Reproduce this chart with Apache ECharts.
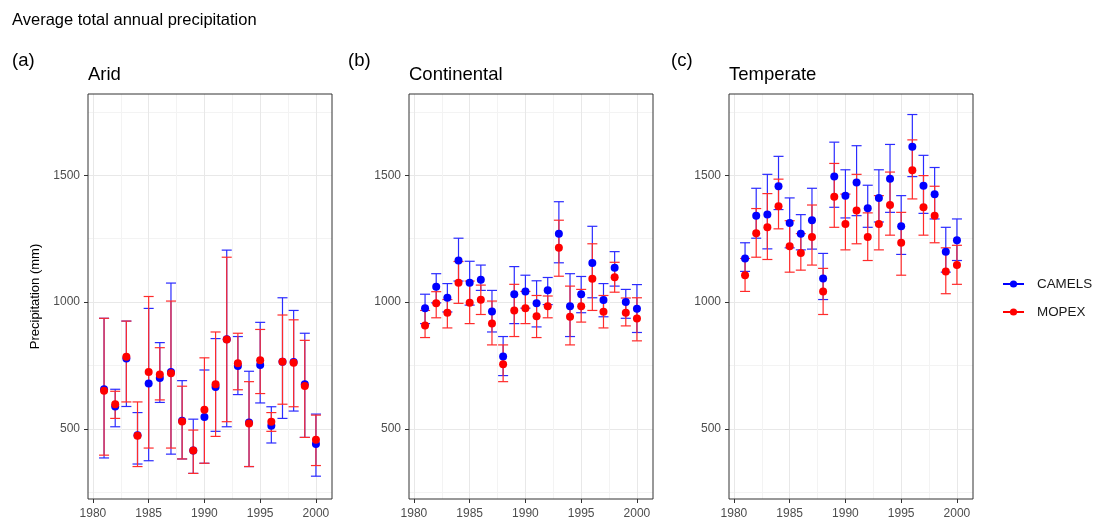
<!DOCTYPE html>
<html>
<head>
<meta charset="utf-8">
<script src="https://cdn.jsdelivr.net/npm/echarts@6/dist/echarts.min.js"></script>
<style>
html,body{margin:0;padding:0;background:#fff;}
#chart{width:1094px;height:520px;}
</style>
</head>
<body>
<div id="chart"></div>
<script>
const years = [1981,1982,1983,1984,1985,1986,1987,1988,1989,1990,1991,1992,1993,1994,1995,1996,1997,1998,1999,2000];
const xTicks = [1980,1985,1990,1995,2000];
const yTicks = [500,1000,1500];
const panelNames = ['Arid','Continental','Temperate'];
const panelTags = ['(a)','(b)','(c)'];

// Arid
const aridCamelsMean = [656,588,777,475,679,700,724,532,414,547,665,853,748,525,752,512,765,764,676,440];
const aridCamelsLow  = [385,508,588,361,374,604,400,381,324,364,490,508,635,351,602,444,541,570,466,313];
const aridCamelsHigh = [936,656,925,564,975,840,1075,690,538,732,856,1205,864,727,920,587,1017,967,877,558];
const aridMopexMean  = [650,597,784,473,724,714,719,529,414,575,676,852,759,521,770,528,765,761,669,457];
const aridMopexLow   = [396,541,606,351,424,614,424,381,324,364,470,528,654,351,639,490,597,587,466,355];
const aridMopexHigh  = [936,648,925,606,1022,820,1004,668,495,780,882,1177,877,686,892,564,949,930,849,554];

// Continental
const contCamelsMean = [976,1060,1017,1164,1076,1088,963,785,1031,1042,995,1047,1270,984,1031,1154,1008,1135,1000,974];
const contCamelsLow  = [915,997,961,1083,988,1046,882,710,915,976,902,990,1155,864,958,1017,942,1063,936,880];
const contCamelsHigh = [1031,1112,1073,1252,1161,1146,1046,864,1140,1106,1084,1097,1396,1112,1101,1299,1073,1199,1050,1069];
const contMopexMean  = [908,995,958,1076,997,1009,915,755,967,976,944,984,1214,942,984,1092,962,1098,958,935];
const contMopexLow   = [860,938,898,995,915,951,831,686,864,915,860,938,1102,831,921,967,898,1039,906,847];
const contMopexHigh  = [967,1041,1010,1160,1083,1067,1004,831,1070,1042,1026,1024,1323,1063,1050,1230,1026,1157,1016,1017];

// Temperate
const tempCamelsMean = [1172,1341,1346,1457,1312,1270,1323,1093,1495,1420,1472,1370,1411,1487,1299,1613,1459,1425,1199,1244];
const tempCamelsLow  = [1121,1252,1210,1365,1214,1206,1209,1010,1374,1332,1341,1295,1316,1354,1188,1495,1350,1328,1118,1164];
const tempCamelsHigh = [1234,1449,1504,1575,1411,1345,1449,1192,1631,1522,1617,1461,1522,1622,1420,1740,1579,1531,1295,1328];
const tempMopexMean  = [1106,1272,1295,1378,1220,1194,1257,1042,1416,1308,1361,1257,1308,1383,1234,1520,1374,1341,1121,1146];
const tempMopexLow   = [1042,1177,1168,1289,1118,1126,1146,951,1295,1206,1230,1164,1206,1264,1106,1407,1264,1234,1033,1070];
const tempMopexHigh  = [1172,1369,1428,1485,1321,1270,1383,1133,1547,1426,1504,1352,1420,1513,1354,1640,1499,1457,1214,1224];

const panels = [
  {camels:[aridCamelsMean,aridCamelsLow,aridCamelsHigh], mopex:[aridMopexMean,aridMopexLow,aridMopexHigh]},
  {camels:[contCamelsMean,contCamelsLow,contCamelsHigh], mopex:[contMopexMean,contMopexLow,contMopexHigh]},
  {camels:[tempCamelsMean,tempCamelsLow,tempCamelsHigh], mopex:[tempMopexMean,tempMopexLow,tempMopexHigh]}
];

const FONT = '"Liberation Sans", Arial, sans-serif';
const BLUE = '#0000ff', RED = '#ff0000';
const BLUE_L = '#2b2bff', RED_L = '#ff2b2b';
const gridLefts = [88, 409, 729];
const Y_MIN = 223, Y_MAX = 1821, X_MIN = 1979.56, X_MAX = 2001.44;

function errBarRenderer(color) {
  return function (params, api) {
    const x = api.value(0), lo = api.value(1), hi = api.value(2);
    const pLo = api.coord([x, lo]);
    const pHi = api.coord([x, hi]);
    const half = api.coord([x + 0.45, lo])[0] - pLo[0];
    const style = {stroke: color, lineWidth: 1.2};
    return {type: 'group', children: [
      {type: 'line', shape: {x1: pLo[0], y1: pLo[1], x2: pHi[0], y2: pHi[1]}, style: style},
      {type: 'line', shape: {x1: pLo[0] - half, y1: pLo[1], x2: pLo[0] + half, y2: pLo[1]}, style: style},
      {type: 'line', shape: {x1: pHi[0] - half, y1: pHi[1], x2: pHi[0] + half, y2: pHi[1]}, style: style}
    ]};
  };
}

const gridLineData = [];
[250,500,750,1000,1250,1500,1750].forEach(function (v) {
  gridLineData.push({yAxis: v, lineStyle: {color: v % 500 === 0 ? '#e8e8e8' : '#f3f3f3', width: 1, type: 'solid'}});
});
[1980,1982.5,1985,1987.5,1990,1992.5,1995,1997.5,2000].forEach(function (v) {
  gridLineData.push({xAxis: v, lineStyle: {color: v % 5 === 0 ? '#e8e8e8' : '#f3f3f3', width: 1, type: 'solid'}});
});

const grids = [], xAxes = [], yAxes = [], series = [], titles = [];
titles.push({text: 'Average total annual precipitation', left: 12, top: 12, padding: 0,
  textStyle: {fontFamily: FONT, fontSize: 16.5, fontWeight: 'normal', color: '#000'}});

panels.forEach(function (p, i) {
  grids.push({left: gridLefts[i], top: 94, width: 244, height: 406, show: true,
    borderColor: '#333', borderWidth: 1, backgroundColor: 'transparent', z: 5, containLabel: false});
  xAxes.push({type: 'value', gridIndex: i, min: X_MIN, max: X_MAX,
    axisLine: {show: false}, splitLine: {show: false},
    axisTick: {show: true, length: 4, lineStyle: {color: '#333', width: 1}, customValues: xTicks},
    axisLabel: {color: '#4d4d4d', fontSize: 12, fontFamily: FONT, margin: 9, customValues: xTicks,
      formatter: function (v) { return String(v); }}
  });
  yAxes.push({type: 'value', gridIndex: i, min: Y_MIN, max: Y_MAX,
    name: i === 0 ? 'Precipitation (mm)' : '', nameLocation: 'middle', nameGap: 46, nameRotate: 90,
    nameTextStyle: {fontFamily: FONT, fontSize: 13, color: '#000'},
    axisLine: {show: false}, splitLine: {show: false},
    axisTick: {show: true, length: 4, lineStyle: {color: '#333', width: 1}, customValues: yTicks},
    axisLabel: {color: '#4d4d4d', fontSize: 12, fontFamily: FONT, margin: 8, customValues: yTicks,
      formatter: function (v) { return String(v); }}
  });
  titles.push({text: panelTags[i], left: [12, 348, 671][i], top: 51, padding: 0,
    textStyle: {fontFamily: FONT, fontSize: 18.5, fontWeight: 'normal', color: '#000'}});
  titles.push({text: panelNames[i], left: gridLefts[i], top: 65, padding: 0,
    textStyle: {fontFamily: FONT, fontSize: 18.5, fontWeight: 'normal', color: '#000'}});

  const cData = years.map(function (y, k) { return [y, p.camels[1][k], p.camels[2][k]]; });
  const mData = years.map(function (y, k) { return [y, p.mopex[1][k], p.mopex[2][k]]; });
  series.push({type: 'custom', name: 'CAMELS err ' + i, xAxisIndex: i, yAxisIndex: i, z: 2,
    renderItem: errBarRenderer(BLUE_L), data: cData, silent: true,
    markLine: {silent: true, z: 1, symbol: ['none', 'none'], label: {show: false}, data: gridLineData, animation: false}
  });
  series.push({type: 'custom', name: 'MOPEX err ' + i, xAxisIndex: i, yAxisIndex: i, z: 2,
    renderItem: errBarRenderer(RED_L), data: mData, silent: true});
  series.push({type: 'scatter', name: 'CAMELS pts ' + i, xAxisIndex: i, yAxisIndex: i, z: 3,
    symbol: 'circle', symbolSize: 8, itemStyle: {color: BLUE, opacity: 1},
    data: years.map(function (y, k) { return [y, p.camels[0][k]]; })});
  series.push({type: 'scatter', name: 'MOPEX pts ' + i, xAxisIndex: i, yAxisIndex: i, z: 3,
    symbol: 'circle', symbolSize: 8, itemStyle: {color: RED, opacity: 1},
    data: years.map(function (y, k) { return [y, p.mopex[0][k]]; })});
});

// legend-only series
series.push({type: 'line', name: 'CAMELS', xAxisIndex: 0, yAxisIndex: 0, data: [], symbol: 'circle',
  itemStyle: {color: BLUE}, lineStyle: {color: BLUE, width: 1.3}});
series.push({type: 'line', name: 'MOPEX', xAxisIndex: 0, yAxisIndex: 0, data: [], symbol: 'circle',
  itemStyle: {color: RED}, lineStyle: {color: RED, width: 1.3}});

const chart = echarts.init(document.getElementById('chart'), null, {renderer: 'canvas'});
chart.setOption({
  animation: false,
  backgroundColor: '#fff',
  title: titles,
  legend: {data: ['CAMELS', 'MOPEX'], orient: 'vertical', left: 1002, top: 277.5, padding: 0,
    itemWidth: 21, itemHeight: 9, itemGap: 15, selectedMode: false,
    textStyle: {fontFamily: FONT, fontSize: 13.4, color: '#1a1a1a', padding: [0, 0, 0, 8]}},
  grid: grids,
  xAxis: xAxes,
  yAxis: yAxes,
  series: series
});
</script>
</body>
</html>
